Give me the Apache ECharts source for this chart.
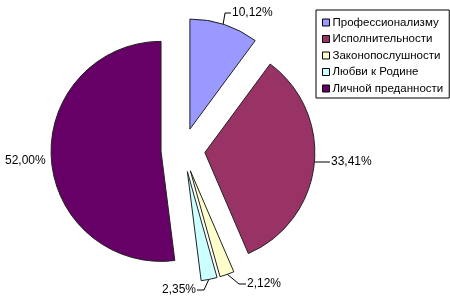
<!DOCTYPE html>
<html>
<head>
<meta charset="utf-8">
<script src="https://cdn.jsdelivr.net/npm/echarts@6/dist/echarts.min.js"></script>
<style>
html,body{margin:0;padding:0;background:#fff;}
#c{width:450px;height:302px;}
</style>
</head>
<body>
<div id="c"></div>
<script>
const categories = ['Профессионализму', 'Исполнительности', 'Законопослушности', 'Любви к Родине', 'Личной преданности'];
const values = [10.12, 33.41, 2.12, 2.35, 52.00];
const colors = ['#9999FF', '#993366', '#FFFFCC', '#CCFFFF', '#660066'];

// label placement (style only): [x, y, align]
const labelPlacement = [
  [232, 13, 'left'],
  [331, 162, 'left'],
  [247, 284, 'left'],
  [196, 290, 'right'],
  [5, 161, 'left']
];
// leader line points (style only)
const lineBends = [
  [[223, 25], [225, 13], [231, 13]],
  [[314, 162], [330, 162]],
  [[227, 274], [239, 284], [246, 284]],
  [[209, 279], [204, 290], [197, 290]],
  null
];

const chart = echarts.init(document.getElementById('c'), null, {renderer: 'canvas'});
const font = '"Liberation Sans", Arial, sans-serif';

const pieData = categories.map((name, i) => ({
  name: name,
  value: values[i],
  selected: true,
  itemStyle: {color: colors[i]}
}));

const labelData = categories.map((name, i) => ({
  name: name,
  value: values[i],
  labelLine: {show: !!lineBends[i]}
}));

chart.setOption({
  animation: false,
  backgroundColor: '#fff',
  legend: {
    orient: 'vertical',
    left: 316,
    top: 10,
    width: 128,
    padding: [6, 6, 3, 6],
    itemGap: 3.5,
    itemWidth: 7,
    itemHeight: 7,
    itemStyle: {borderColor: '#000', borderWidth: 1},
    icon: 'rect',
    borderColor: '#000',
    borderWidth: 1,
    textStyle: {fontFamily: font, fontSize: 11.5, color: '#000', lineHeight: 13, padding: [0, 0, 0, -2]},
    selectedMode: false,
    data: categories
  },
  series: [{
    type: 'pie',
    name: 'pie',
    center: [183, 150],
    radius: 110,
    startAngle: 90,
    clockwise: true,
    selectedMode: 'multiple',
    selectedOffset: 22,
    emphasis: {disabled: true},
    itemStyle: {borderColor: '#222', borderWidth: 1},
    label: {show: false},
    labelLine: {show: false},
    data: pieData
  }, {
    type: 'pie',
    name: 'labels',
    center: [183, 150],
    radius: 110,
    startAngle: 90,
    clockwise: true,
    silent: true,
    avoidLabelOverlap: false,
    emphasis: {disabled: true},
    itemStyle: {color: 'rgba(0,0,0,0)', borderWidth: 0},
    label: {
      show: true,
      position: 'outside',
      fontFamily: font,
      fontSize: 12,
      color: '#000',
      formatter: p => p.value.toFixed(2).replace('.', ',') + '%'
    },
    labelLine: {
      show: true,
      lineStyle: {color: '#000', width: 1}
    },
    labelLayout: function (params) {
      const p = labelPlacement[params.dataIndex];
      const out = {x: p[0], y: p[1], align: p[2], verticalAlign: 'middle'};
      const lb = lineBends[params.dataIndex];
      if (lb) out.labelLinePoints = lb;
      return out;
    },
    data: labelData
  }]
});
</script>
</body>
</html>
